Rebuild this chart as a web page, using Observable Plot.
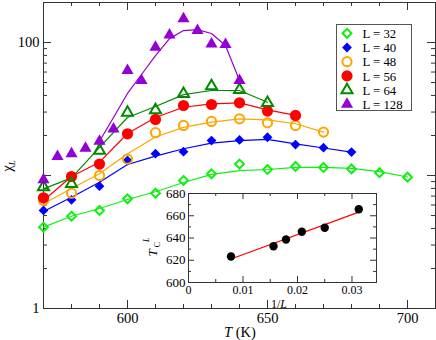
<!DOCTYPE html>
<html><head><meta charset="utf-8">
<script src="https://cdn.jsdelivr.net/npm/d3@7"></script>
<script src="https://cdn.jsdelivr.net/npm/@observablehq/plot@0.6"></script>
<style>
body{margin:0;background:#fff;}
#wrap{position:relative;width:436px;height:340px;font-family:"Liberation Serif",serif;}
#wrap svg{position:absolute;left:0;top:0;}
</style></head><body><div id="wrap"></div>
<script>
// ---------- data ----------
const labels = ["L = 32","L = 40","L = 48","L = 56","L = 64","L = 128"];
const T32 = [570,580,590,600,610,620,630,640,650,660,670,680,690,700];
const chi32 = [4.09,4.94,5.46,6.68,7.36,9.17,10.3,12.2,11.1,11.7,11.5,11.2,10.5,9.71];
const fit32 = [4.09,4.94,5.65,6.6,7.55,8.86,10.2,10.9,11.1,11.5,11.5,11.3,10.7,9.75];
const T40 = [570,580,590,600,610,620,630,640,650,660,670,680];
const chi40 = [5.46,6.57,8.31,12.97,14.6,15.1,18.3,18.5,19.4,17.1,16.2,15.0];
const fit40 = [5.36,6.87,8.91,12.1,14.0,15.9,17.5,18.3,18.7,17.3,16.1,15.0];
const T48 = [570,580,590,600,610,620,630,640,650,660,670];
const chi48 = [6.5,7.36,10.0,13.3,21.0,23.8,25.5,26.7,24.9,23.8,21.2];
const fit48 = [6.13,7.98,10.3,14.6,19.5,23.0,25.2,26.7,26.2,24.5,21.2];
const T56 = [570,580,590,600,610,620,630,640,650,660];
const chi56 = [6.8,9.83,12.2,20.6,26.4,33.6,34.2,35.2,30.5,28.3];
const fit56 = [6.49,9.83,12.6,20.7,27.3,32.6,34.6,35.2,31.2,28.3];
const T64 = [570,580,590,600,610,620,630,640,650];
const chi64 = [8.2,8.66,15.4,29.7,31.0,41.1,47.0,44.1,35.2];
const fit64 = [7.94,9.6,16.3,27.3,33.0,40.6,43.6,43.6,35.6];
const T128 = [570,575,580,585,590,595,600,605,610,615,620,625,630,635,640];
const chi128 = [9.28,13.9,14.6,16.0,18.1,22.4,61.6,51.8,92.2,114,151,123,97.7,96.6,51.8];
const fitT128 = [590,595,600,605,610,615,620,625,630,635,640];
const fit128 = [18.1,27.3,41.4,57.5,79.8,107,123,125,117,94.9,51.8];

// inset
const invL = [0.0078,0.0156,0.0179,0.0208,0.025,0.03125];
const TcL = [623.4,632.6,638.6,645.6,649.2,665.9];

// ticks
const xMajor = [600,650,700];
const xMinor = [580,590,610,620,630,640,660,670,680,690];
const xTickLabels = [600,650,700];
const yMajor = [10,100];
const yMinor = [2,3,4,5,6,7,8,9,20,30,40,50,60,70,80,90];
const yTickLabels = [1,100];
const ixMajor = [0.01,0.02,0.03];
const ixMinor = [0.005,0.015,0.025];
const ixLabels = [0,0.01,0.02,0.03];
const iyMajor = [620,640,660];
const iyMinor = [610,630,650,670];
const iyLabels = [600,620,640,660,680];

// styles
const colors = ["#10f010","#0000ff","#ffa500","#ff0000","#008b00","#9400d3"];
const symbols = ["diamond2","diamond2","circle","circle","triangle","triangle"];
const filled = [false,true,false,true,false,true];
const radii = [4.0,4.4,4.6,5.6,4.1,4.5];

const pts = [[T32,chi32],[T40,chi40],[T48,chi48],[T56,chi56],[T64,chi64],[T128,chi128]];
const fits = [[T32,fit32],[T40,fit40],[T48,fit48],[T56,fit56],[T64,fit64],[fitT128,fit128]];
const toRows = ([xs, ys]) => xs.map((x,i)=>({x, y: ys[i]}));

// ---------- main plot ----------
const W = 436, H = 340, mL = 43, mR = 1, mT = 2, mB = 32;
const fw = W - mL - mR, fh = H - mT - mB;
const ink = "#333";
function frameTicksX(vals, len, fH) {
  return [Plot.tickX(vals, {x: d=>d, insetTop: fH - len, stroke: ink}),
          Plot.tickX(vals, {x: d=>d, insetBottom: fH - len, stroke: ink})];
}
function frameTicksY(vals, len, fW) {
  return [Plot.tickY(vals, {y: d=>d, insetRight: fW - len, stroke: ink}),
          Plot.tickY(vals, {y: d=>d, insetLeft: fW - len, stroke: ink})];
}
const marks = [
  Plot.frame({stroke: ink}),
  ...frameTicksX(xMajor, 8, fh), ...frameTicksX(xMinor, 4, fh),
  ...frameTicksY(yMajor, 8, fw), ...frameTicksY(yMinor, 4, fw),
  Plot.axisX({ticks: xTickLabels, tickSize: 0, tickPadding: 4, label: null, tickFormat: d=>String(d)}),
  Plot.axisY({ticks: yTickLabels, tickSize: 0, tickPadding: 4, label: null, tickFormat: d=>String(d)})
];
fits.forEach((f,i) => marks.push(Plot.line(toRows(f), {x:"x", y:"y", stroke: colors[i], strokeWidth: 1.2})));
pts.forEach((p,i) => marks.push(Plot.dot(toRows(p), {
  x:"x", y:"y", r: radii[i], symbol: symbols[i],
  fill: filled[i] ? colors[i] : "none",
  stroke: filled[i] ? "none" : colors[i],
  strokeWidth: filled[i] ? 0 : 2
})));

const main = Plot.plot({
  width: W, height: H, marginLeft: mL, marginRight: mR, marginTop: mT, marginBottom: mB,
  x: {domain: [570, 710]},
  y: {type: "log", domain: [1, 200]},
  style: {fontFamily: "'Liberation Serif', serif", fontSize: "14.5px", background: "transparent", color: "#000"},
  marks
});
document.getElementById("wrap").appendChild(main);
const ms = d3.select(main);
// x label: T (K)
const xl = ms.append("text").attr("x", 240).attr("y", 337).attr("text-anchor", "middle")
  .attr("font-size", 14.5).attr("fill", "#000");
xl.append("tspan").attr("font-style", "italic").text("T");
xl.append("tspan").text(" (K)");
// y label: chi_L
const yl = ms.append("text").attr("transform", "translate(12,166) rotate(-90)")
  .attr("font-size", 15).attr("fill", "#000");
yl.append("tspan").text("χ");
yl.append("tspan").attr("font-size", 9).attr("font-style", "italic").attr("dy", 3).text("L");

// ---------- legend ----------
const leg = d3.select("#wrap").append("svg").attr("width", W).attr("height", H);
leg.append("rect").attr("x", 336.5).attr("y", 24.5).attr("width", 75).attr("height", 86)
  .attr("fill", "#fff").attr("stroke", "#555").attr("stroke-width", 1);
const symMap = {diamond2: d3.symbolDiamond2, circle: d3.symbolCircle, triangle: d3.symbolTriangle};
labels.forEach((lab, i) => {
  const cy = 33.3 + i * 14.2;
  leg.append("path")
    .attr("transform", `translate(347,${cy})`)
    .attr("d", d3.symbol(symMap[symbols[i]], Math.PI * radii[i] * radii[i])())
    .attr("fill", filled[i] ? colors[i] : "none")
    .attr("stroke", filled[i] ? "none" : colors[i])
    .attr("stroke-width", 2);
  leg.append("text").attr("x", 362.5).attr("y", cy + 4.6)
    .style("font-family", "'Liberation Serif', serif").attr("font-size", 12.8).attr("fill", "#000").text(lab);
});

// ---------- inset ----------
const iL = 140, iT = 183, iW = 246, iH = 130;
const imL = 48, imR = 10, imT = 10, imB = 31;
const ifw = iW - imL - imR, ifh = iH - imT - imB;
const inset = Plot.plot({
  width: iW, height: iH, marginLeft: imL, marginRight: imR, marginTop: imT, marginBottom: imB,
  x: {domain: [0, 0.0345]},
  y: {domain: [600, 680]},
  style: {fontFamily: "'Liberation Serif', serif", fontSize: "12.5px", background: "transparent", color: "#000"},
  marks: [
    Plot.frame({stroke: ink, fill: "white"}),
    ...frameTicksX(ixMajor, 6, ifh), ...frameTicksX(ixMinor, 3, ifh),
    ...frameTicksY(iyMajor, 6, ifw), ...frameTicksY(iyMinor, 3, ifw),
    Plot.axisX({ticks: ixLabels, tickSize: 0, tickPadding: 3, label: null, fontSize: 12,
      tickFormat: d => d === 0 ? "0" : d.toFixed(2)}),
    Plot.axisY({ticks: iyLabels, tickSize: 0, tickPadding: 3, label: null, fontSize: 13, tickFormat: d=>String(d)}),
    Plot.linearRegressionY({length: invL.length}, {x: invL, y: TcL, ci: 0, stroke: "#ff0000", strokeWidth: 1.2}),
    Plot.dot({length: invL.length}, {x: invL, y: TcL, r: 4.2, fill: "#000"})
  ]
});
inset.style.left = iL + "px";
inset.style.top = iT + "px";
document.getElementById("wrap").appendChild(inset);
const is = d3.select(inset);
const ixl = is.append("text").attr("x", 139).attr("y", 125).attr("text-anchor", "middle")
  .attr("font-size", 12).attr("fill", "#000");
ixl.append("tspan").text("1/");
ixl.append("tspan").attr("font-style", "italic").text("L");
const iyl = is.append("text").attr("transform", "translate(17,64) rotate(-90)")
  .attr("font-size", 13).attr("fill", "#000");
iyl.append("tspan").attr("font-style", "italic").text("T");
iyl.append("tspan").attr("font-size", 8).attr("dy", 3).attr("dx", 2).text("C");
iyl.append("tspan").attr("font-size", 8).attr("font-style", "italic").attr("dy", -11).attr("dx", 0).text("L");
</script></body></html>
